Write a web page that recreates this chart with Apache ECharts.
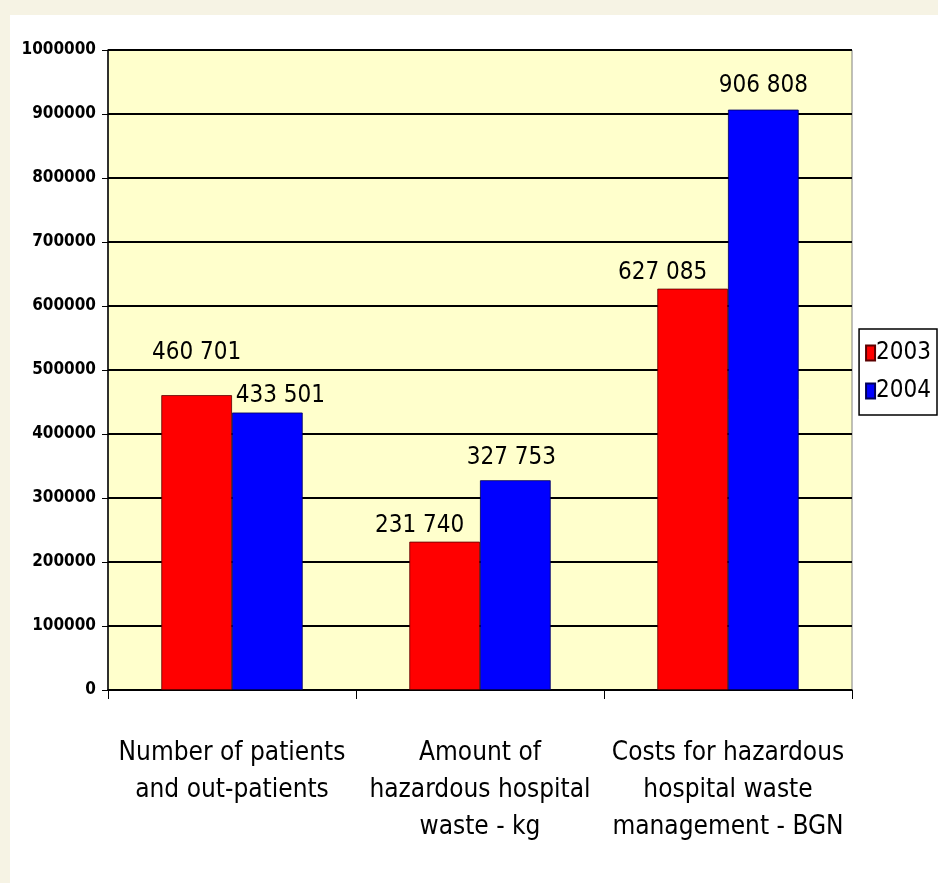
<!DOCTYPE html>
<html>
<head>
<meta charset="utf-8">
<script src="https://cdn.jsdelivr.net/npm/echarts@6/dist/echarts.min.js"></script>
<style>
  html, body { margin: 0; padding: 0; background: #f6f3e4; }
  #chart { width: 938px; height: 883px; }
</style>
</head>
<body>
<div id="chart"></div>
<script>
// data
const categories = [
    'Number of patients\nand out-patients',
    'Amount of\nhazardous hospital\nwaste - kg',
    'Costs for hazardous\nhospital waste\nmanagement - BGN'
];
const years = ['2003', '2004'];
const values2003 = [460701, 231740, 627085];
const values2004 = [433501, 327753, 906808];
// label placement tweaks per bar: [dx, gap above bar]
const labelPos2003 = [[0, 30], [-25, 4], [-30, 4]];
const labelPos2004 = [[13, 5], [-4, 10], [0, 12]];

const narrow = '"DejaVu Sans Condensed", "Liberation Sans Narrow", sans-serif';

function fmt(v) {
    return String(v).replace(/\B(?=(\d{3})+(?!\d))/g, ' ');
}

function seriesData(values, pos) {
    return values.map(function (v, i) {
        return { value: v, label: { offset: [pos[i][0], 0], distance: pos[i][1] } };
    });
}

const chart = echarts.init(document.getElementById('chart'));

const option = {
    backgroundColor: '#f6f3e4',
    animation: false,
    graphic: [
        {
            type: 'rect',
            z: -10,
            shape: { x: 10, y: 15, width: 928, height: 868 },
            style: { fill: '#ffffff' }
        },
        {
            // plot area
            type: 'rect',
            z: -5,
            shape: { x: 108, y: 50, width: 744, height: 640 },
            style: { fill: '#ffffcc', stroke: '#808080', lineWidth: 1 }
        }
    ],
    grid: { left: 108, top: 50, width: 744, height: 640 },
    legend: {
        data: years,
        orient: 'vertical',
        right: 1,
        top: 329,
        itemWidth: 9,
        itemHeight: 15,
        itemGap: 14,
        padding: [12, 6, 12, 6],
        borderColor: '#000',
        borderWidth: 1.5,
        borderRadius: 0,
        backgroundColor: '#fff',
        icon: 'rect',
        textStyle: { fontFamily: narrow, fontSize: 24, color: '#000', padding: [0, 0, 0, -4] }
    },
    xAxis: {
        type: 'category',
        data: categories,
        axisLine: { lineStyle: { color: '#000', width: 1.5 } },
        axisTick: { show: true, length: 9, lineStyle: { color: '#000' } },
        axisLabel: {
            interval: 0,
            margin: 45,
            fontFamily: narrow,
            fontSize: 26,
            lineHeight: 37,
            color: '#000'
        }
    },
    yAxis: {
        type: 'value',
        min: 0,
        max: 1000000,
        interval: 100000,
        axisLine: { show: true, lineStyle: { color: '#000', width: 1.5 } },
        axisTick: { show: true, length: 6, lineStyle: { color: '#000' } },
        splitLine: { lineStyle: { color: '#000', width: 2 } },
        axisLabel: {
            margin: 12,
            fontFamily: narrow,
            fontWeight: 'bold',
            fontSize: 17,
            color: '#000',
            formatter: function (v) { return String(v); }
        }
    },
    series: [
        {
            name: years[0],
            type: 'bar',
            data: seriesData(values2003, labelPos2003),
            barGap: '0%',
            barCategoryGap: '43%',
            itemStyle: { color: '#ff0000', borderColor: '#5a0000', borderWidth: 0.8 },
            label: {
                show: true,
                position: 'top',
                fontFamily: narrow,
                fontSize: 24,
                color: '#000',
                formatter: function (p) { return fmt(p.value); }
            }
        },
        {
            name: years[1],
            type: 'bar',
            data: seriesData(values2004, labelPos2004),
            itemStyle: { color: '#0000ff', borderColor: '#00005a', borderWidth: 0.8 },
            label: {
                show: true,
                position: 'top',
                fontFamily: narrow,
                fontSize: 24,
                color: '#000',
                formatter: function (p) { return fmt(p.value); }
            }
        }
    ]
};

chart.setOption(option);
</script>
</body>
</html>
